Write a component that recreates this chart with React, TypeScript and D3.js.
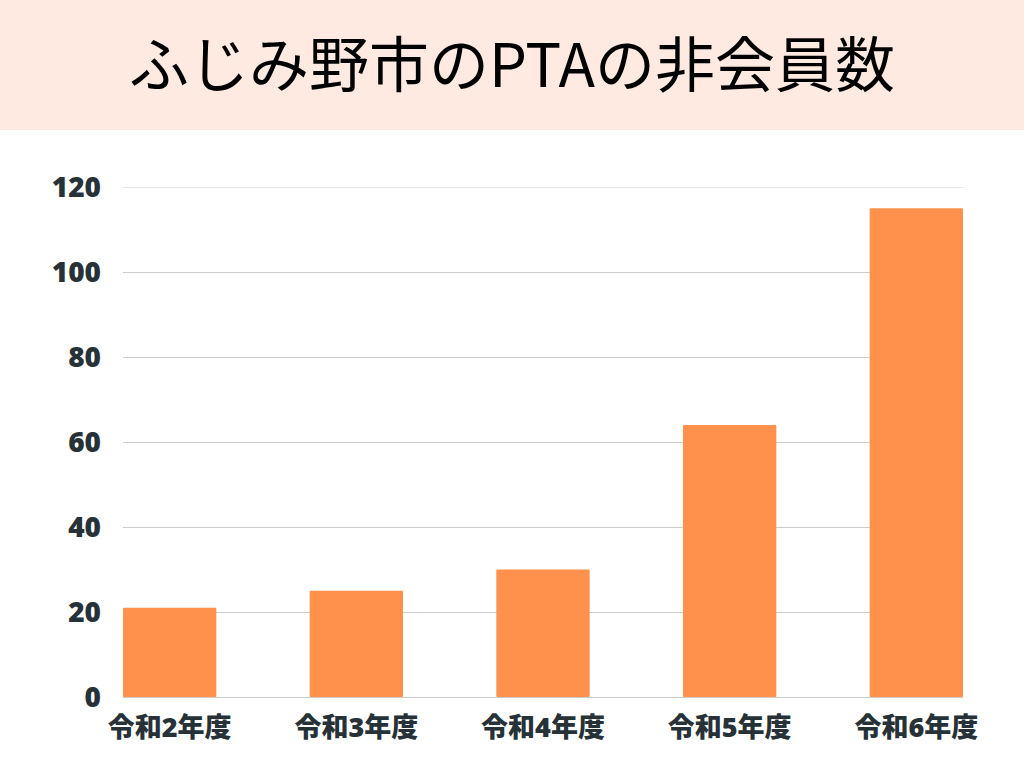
import React from "react";
import * as d3 from "d3";

const title = "ふじみ野市のPTAの非会員数";
const categories = ["令和2年度", "令和3年度", "令和4年度", "令和5年度", "令和6年度"];
const values = [21, 25, 30, 64, 115];
const yTicks = [0, 20, 40, 60, 80, 100, 120];

const W = 1024;
const H = 768;

export default function App() {
  const x = d3.scaleBand<string>().domain(categories).range([123, 963]).paddingInner(0.5).paddingOuter(0);
  const y = d3.scaleLinear().domain([0, 120]).range([697, 187]);
  const font = "'Open Sans', 'Noto Sans CJK JP', sans-serif";
  return (
    <>
      <style>{"body{margin:0}"}</style>
      <svg width={W} height={H} style={{ display: "block" }}>
        <rect x={0} y={0} width={W} height={H} fill="#ffffff" />
        <rect x={0} y={0} width={W} height={130} fill="#FEEAE0" />
        <text
          x={512}
          y={87}
          textAnchor="middle"
          fontFamily="'Noto Sans CJK JP', sans-serif"
          fontWeight={400}
          fontSize={60}
          fill="#000"
        >
          {title}
        </text>
        {yTicks.map((t) => (
          <g key={t}>
            <line x1={123} x2={963} y1={y(t) + 0.5} y2={y(t) + 0.5} stroke={t === 120 ? "#e2e2e2" : "#cccccc"} strokeWidth={1} />
            <text
              x={101}
              y={y(t)}
              dy="0.36em"
              textAnchor="end"
              fontFamily={font}
              fontWeight={800}
              fontSize={28}
              fill="#263238"
            >
              {t}
            </text>
          </g>
        ))}
        {categories.map((c, i) => (
          <rect key={c} x={x(c)} y={y(values[i])} width={x.bandwidth()} height={y(0) - y(values[i])} fill="#FF914D" rx={1} />
        ))}
        {categories.map((c) => (
          <text
            key={c}
            x={(x(c) ?? 0) + x.bandwidth() / 2}
            y={737}
            textAnchor="middle"
            fontFamily={font}
            fontWeight={800}
            fontSize={27}
            fill="#263238"
          >
            {c}
          </text>
        ))}
      </svg>
    </>
  );
}
